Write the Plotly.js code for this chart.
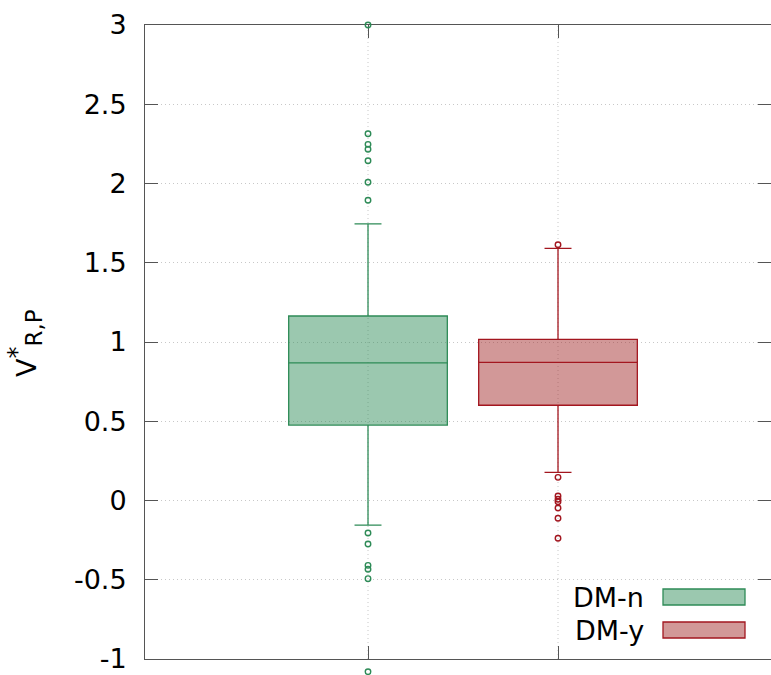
<!DOCTYPE html>
<html><head><meta charset="utf-8">
<script src="https://cdn.plot.ly/plotly-3.0.1.min.js"></script>
<style>html,body{margin:0;padding:0;background:#fff}#chart{width:771px;height:675px}</style>
</head><body><div id="chart"></div>
<script>
// Groups and their box-plot statistics
const groups = ["DM-n", "DM-y"];
const positions = [1, 2];
const q1 = [0.476, 0.601];
const median = [0.868, 0.872];
const q3 = [1.164, 1.017];
const lowerFence = [-0.155, 0.178];
const upperFence = [1.745, 1.591];
// Outliers
const outliersDMn = [3.0, 2.314, 2.247, 2.216, 2.144, 2.008, 1.894, -0.205, -0.274, -0.409, -0.434, -0.493, -1.08];
const outliersDMy = [1.614, 0.146, 0.028, 0.008, -0.008, -0.047, -0.112, -0.238];
const yTicks = [-1, -0.5, 0, 0.5, 1, 1.5, 2, 2.5, 3];
const yTickText = ["-1", "-0.5", "0", "0.5", "1", "1.5", "2", "2.5", "3"];

const lineColors = ["#2e8b57", "#a3161f"];
const fillColors = ["rgba(46,139,87,0.48)", "rgba(160,40,40,0.48)"];
const outliers = [outliersDMn, outliersDMy];

// plot geometry (pixels)
const W = 771, H = 675, L = 145, T = 25, B = 16;
const plotH = H - T;            // full subplot height incl. bottom overhang
const axisH = H - T - B;         // height of the main axis frame
const yMin = -1, yMax = 3;
const pxPerUnit = axisH / (yMax - yMin);
const y2Min = yMin - B / pxPerUnit;
const gridColor = "#c8c8c8", gridDash = "1px,3px";

const traces = [];
groups.forEach((g, i) => {
  traces.push({
    type: "box", name: g, x: [positions[i]], yaxis: "y2",
    q1: [q1[i]], median: [median[i]], q3: [q3[i]],
    lowerfence: [lowerFence[i]], upperfence: [upperFence[i]],
    width: 0.835, whiskerwidth: 0.17,
    line: {color: lineColors[i], width: 1.3},
    fillcolor: fillColors[i], boxpoints: false, hoverinfo: "skip", showlegend: false
  });
  traces.push({
    type: "scatter", mode: "markers", x: outliers[i].map(() => positions[i]), y: outliers[i],
    yaxis: "y2",
    marker: {symbol: "circle-open", size: 5.5, color: lineColors[i], line: {width: 1.4, color: lineColors[i]}},
    cliponaxis: false, showlegend: false, hoverinfo: "skip"
  });
});

const font = {family: "DejaVu Sans, sans-serif", size: 27, color: "#000"};
const shapes = [];
const annotations = [];
// vertical grid lines at the box positions (inside the axis frame only)
positions.forEach((p) => {
  shapes.push({type: "line", xref: "x", yref: "y", x0: p, x1: p, y0: yMin, y1: yMax, layer: "below",
    line: {color: gridColor, width: 1, dash: gridDash}});
});
// manual legend (text left of sample, as in reference)
const legY = [597, 630];
const py = (p) => (H - p) / plotH;   // pixel y -> paper y
const px = (p) => (p - L) / (W - L); // pixel x -> paper x
groups.forEach((g, i) => {
  annotations.push({xref: "paper", yref: "paper", x: px(646), y: py(legY[i]),
    xanchor: "right", yanchor: "middle", text: g, showarrow: false, font: font});
  shapes.push({type: "rect", xref: "paper", yref: "paper",
    x0: px(663), x1: px(745), y0: py(legY[i] + 8), y1: py(legY[i] - 8),
    line: {color: lineColors[i], width: 1.3}, fillcolor: fillColors[i]});
});
// y-axis title
annotations.push({xref: "paper", yref: "paper", x: px(25), y: py(343),
  xanchor: "center", yanchor: "middle", textangle: -90, showarrow: false,
  text: "V<sup><span style='font-size:24px'>*</span></sup><sub><span style='font-size:23px'>R,P</span></sub>",
  font: {family: "DejaVu Sans, sans-serif", size: 27, color: "#000"}});

const layout = {
  width: W, height: H,
  margin: {l: L, r: 0, t: T, b: 0},
  paper_bgcolor: "#fff", plot_bgcolor: "rgba(0,0,0,0)",
  showlegend: false,
  font: font,
  xaxis: {range: [-0.1737, 3.121], tickvals: positions, showticklabels: false, ticks: "inside", ticklen: 13,
    tickcolor: "#555", showline: true, linecolor: "#555", linewidth: 1, mirror: "ticks",
    showgrid: false, zeroline: false, fixedrange: true, anchor: "y"},
  yaxis: {domain: [B / plotH, 1], range: [yMin, yMax], tickvals: yTicks, ticktext: yTickText, ticks: "inside", ticklen: 13,
    tickcolor: "#555", showline: true, linecolor: "#555", linewidth: 1, mirror: "ticks",
    showgrid: true, gridcolor: gridColor, griddash: gridDash, gridwidth: 1, zeroline: false,
    ticklabelstandoff: 12, tickfont: font},
  yaxis2: {domain: [0, 1], range: [y2Min, yMax], visible: false, anchor: "x", showgrid: false, zeroline: false},
  shapes: shapes, annotations: annotations
};
Plotly.newPlot("chart", traces, layout, {staticPlot: true});
</script></body></html>
